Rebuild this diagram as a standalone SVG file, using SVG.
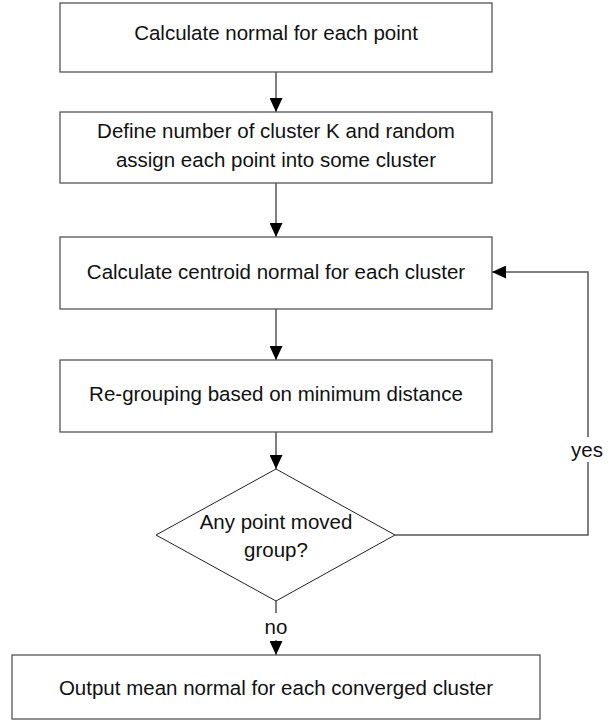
<svg xmlns="http://www.w3.org/2000/svg" width="614" height="721" viewBox="0 0 614 721">
  <style>
    .box { fill: #ffffff; stroke: #555555; stroke-width: 1.3; }
    .dia { fill: #ffffff; stroke: #222222; stroke-width: 1; }
    .lbl { font-family: "Liberation Sans", Arial, sans-serif; font-size: 20.5px; fill: #111111; text-anchor: middle; }
    .edge { fill: none; stroke: #555555; stroke-width: 1.5; }
  </style>
  <defs>
    <marker id="arrow" viewBox="0 0 14 13" refX="14" refY="6.5" markerWidth="14" markerHeight="13" markerUnits="userSpaceOnUse" orient="auto">
      <path d="M0,0 L14,6.5 L0,13 Z" fill="#000000"/>
    </marker>
  </defs>
  <rect width="614" height="721" fill="#ffffff"/>

  <g id="connectors">
    <line class="edge" x1="276" y1="72" x2="276" y2="112" marker-end="url(#arrow)"/>
    <line class="edge" x1="276" y1="183" x2="276" y2="237" marker-end="url(#arrow)"/>
    <line class="edge" x1="276" y1="309" x2="276" y2="360" marker-end="url(#arrow)"/>
    <line class="edge" x1="276" y1="432" x2="276" y2="469" marker-end="url(#arrow)"/>
    <!-- yes loop back to centroid step -->
    <polyline class="edge" points="395,535 588,535 588,462"/>
    <polyline class="edge" points="588,437 588,272 492,272" marker-end="url(#arrow)"/>
    <text class="lbl" x="587" y="457">yes</text>
    <!-- no branch to output -->
    <line class="edge" x1="276" y1="601" x2="276" y2="613"/>
    <text class="lbl" x="276" y="634">no</text>
    <line class="edge" x1="276" y1="640" x2="276" y2="655" marker-end="url(#arrow)"/>
  </g>

  <g id="calc-normal">
    <rect class="box" x="60" y="3" width="432" height="69"/>
    <text class="lbl" x="276" y="40">Calculate normal for each point</text>
  </g>

  <g id="define-clusters">
    <rect class="box" x="60" y="112" width="432" height="71"/>
    <text class="lbl" x="276" y="138">Define number of cluster K and random</text>
    <text class="lbl" x="276" y="167">assign each point into some cluster</text>
  </g>

  <g id="centroid">
    <rect class="box" x="60" y="237" width="432" height="72"/>
    <text class="lbl" x="276" y="279">Calculate centroid normal for each cluster</text>
  </g>

  <g id="regroup">
    <rect class="box" x="60" y="360" width="432" height="72"/>
    <text class="lbl" x="276" y="401">Re-grouping based on minimum distance</text>
  </g>

  <g id="moved-check">
    <polygon class="dia" points="276,469 395,535 276,601 156,535"/>
    <text class="lbl" x="276" y="529">Any point moved</text>
    <text class="lbl" x="276" y="557">group?</text>
  </g>

  <g id="output">
    <rect class="box" x="12" y="655" width="528" height="64"/>
    <text class="lbl" x="276" y="695">Output mean normal for each converged cluster</text>
  </g>
</svg>
